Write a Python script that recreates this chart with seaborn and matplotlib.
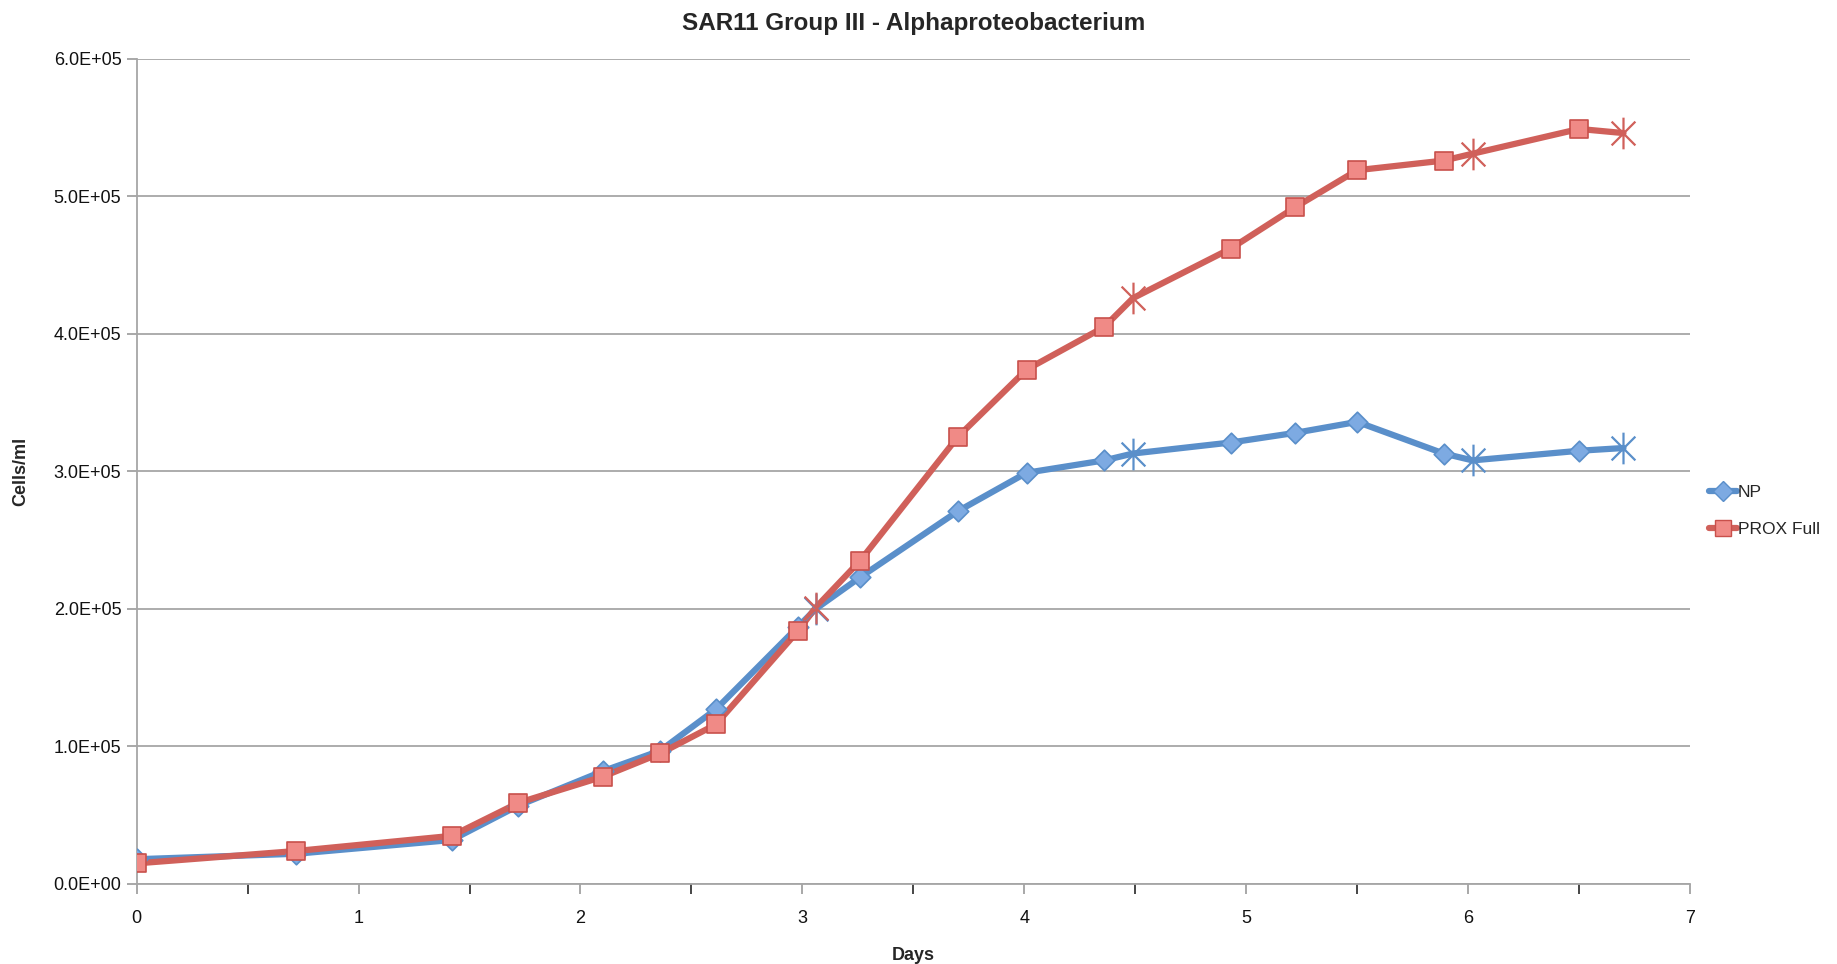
import numpy as np
import pandas as pd
import matplotlib
matplotlib.use("Agg")
import matplotlib.pyplot as plt
from matplotlib.path import Path
from matplotlib.lines import Line2D
from matplotlib import font_manager
import seaborn as sns

# Sampling times (days) shared by both cultures
days = [0.0, 0.72, 1.42, 1.72, 2.10, 2.36, 2.61, 2.98, 3.06, 3.26, 3.70,
        4.01, 4.36, 4.49, 4.93, 5.22, 5.50, 5.89, 6.02, 6.50, 6.70]

# Cell counts (cells/ml)
np_cells = [1.8e4, 2.2e4, 3.2e4, 5.7e4, 8.2e4, 9.7e4, 1.27e5, 1.87e5, 2.0e5,
            2.23e5, 2.71e5, 2.99e5, 3.08e5, 3.13e5, 3.21e5, 3.28e5, 3.36e5,
            3.13e5, 3.08e5, 3.15e5, 3.17e5]
prox_cells = [1.5e4, 2.4e4, 3.5e4, 5.9e4, 7.8e4, 9.5e4, 1.16e5, 1.84e5, 2.01e5,
              2.35e5, 3.25e5, 3.74e5, 4.05e5, 4.26e5, 4.62e5, 4.92e5, 5.19e5,
              5.26e5, 5.31e5, 5.49e5, 5.46e5]

# Samples flagged with the asterisk marker
flagged = [False, False, False, False, False, False, False, False, True,
           False, False, False, False, True, False, False, False, False,
           True, False, True]

series_names = ["NP", "PROX Full"]
y_ticks = [0, 1e5, 2e5, 3e5, 4e5, 5e5, 6e5]
y_tick_labels = ["0.0E+00", "1.0E+05", "2.0E+05", "3.0E+05", "4.0E+05",
                 "5.0E+05", "6.0E+05"]
x_ticks = [0, 1, 2, 3, 4, 5, 6, 7]

df = pd.concat([
    pd.DataFrame({"Days": days, "Cells": np_cells, "Series": "NP", "Flag": flagged}),
    pd.DataFrame({"Days": days, "Cells": prox_cells, "Series": "PROX Full", "Flag": flagged}),
], ignore_index=True)

line_colors = {"NP": "#5A8FCA", "PROX Full": "#D0605A"}
fill_colors = {"NP": "#7DAAE2", "PROX Full": "#F08A86"}
edge_colors = {"NP": "#5A8FCA", "PROX Full": "#C8504B"}
base_markers = {"NP": "D", "PROX Full": "s"}
base_sizes = {"NP": 110, "PROX Full": 180}

# vertical bar plus an X: the asterisk flag marker
star_path = Path(
    [(0, -1), (0, 1), (-0.75, -0.75), (0.75, 0.75), (-0.75, 0.75), (0.75, -0.75)],
    [Path.MOVETO, Path.LINETO, Path.MOVETO, Path.LINETO, Path.MOVETO, Path.LINETO],
)

sns.set_theme(style="white")
available = {f.name for f in font_manager.fontManager.ttflist}
narrow = "Liberation Sans Narrow" if "Liberation Sans Narrow" in available else "Liberation Sans"
plt.rcParams["font.family"] = [narrow, "DejaVu Sans"]

fig = plt.figure(figsize=(18.37, 9.64), dpi=100)
ax = fig.add_axes([0.0744, 0.083, 0.8456, 0.856])

for name in series_names:
    sub = df[df["Series"] == name]
    sns.lineplot(data=sub, x="Days", y="Cells", ax=ax, color=line_colors[name],
                 linewidth=4.5, sort=False, estimator=None, legend=False, zorder=3)
    plain = sub[~sub["Flag"]]
    sns.scatterplot(data=plain, x="Days", y="Cells", ax=ax, marker=base_markers[name],
                    s=base_sizes[name], color=fill_colors[name],
                    edgecolor=edge_colors[name], linewidth=1.2, legend=False, zorder=4)
    stars = sub[sub["Flag"]]
    sns.scatterplot(data=stars, x="Days", y="Cells", ax=ax, marker=star_path,
                    s=520, color=line_colors[name], edgecolor=line_colors[name],
                    linewidth=1.6, legend=False, zorder=4)

ax.set_xlim(0, 7)
ax.set_ylim(0, 6e5)
ax.set_yticks(y_ticks)
ax.set_yticklabels(y_tick_labels)
ax.set_xticks(x_ticks)
ax.set_xticks(np.arange(0.5, 7, 1.0), minor=True)
ax.tick_params(axis="both", labelsize=13, colors="#9a9a9a", labelcolor="#111111")
ax.tick_params(axis="y", which="major", direction="out", length=7, width=1.2, pad=4, left=True)
ax.tick_params(axis="x", which="both", direction="out", length=7, width=1.2, pad=12, bottom=True)

ax.grid(axis="y", color="#a6a6a6", linewidth=1.3)
ax.grid(axis="x", visible=False)
for side in ["top", "right"]:
    ax.spines[side].set_visible(False)
for side in ["left", "bottom"]:
    ax.spines[side].set_color("#a6a6a6")
    ax.spines[side].set_linewidth(1.3)
ax.set_axisbelow(True)

ax.set_xlabel("Days", fontsize=13, fontweight="bold", labelpad=14)
ax.set_ylabel("Cells/ml", fontsize=13, fontweight="bold")
ax.yaxis.set_label_coords(-0.069, 0.5)
ax.set_title("SAR11 Group III - Alphaproteobacterium", fontsize=17.5,
             fontweight="bold", pad=21)

handles = [
    Line2D([0], [0], color=line_colors[n], linewidth=4.5, marker=base_markers[n],
           markersize=10 if n == "NP" else 12, markerfacecolor=fill_colors[n],
           markeredgecolor=edge_colors[n])
    for n in series_names
]
fig.legend(handles, series_names, loc="center left", bbox_to_anchor=(0.922, 0.47),
           frameon=False, fontsize=12.5, handlelength=1.6, handletextpad=0.05,
           labelspacing=1.3)

fig.savefig("out.png", dpi=100, facecolor="white")
